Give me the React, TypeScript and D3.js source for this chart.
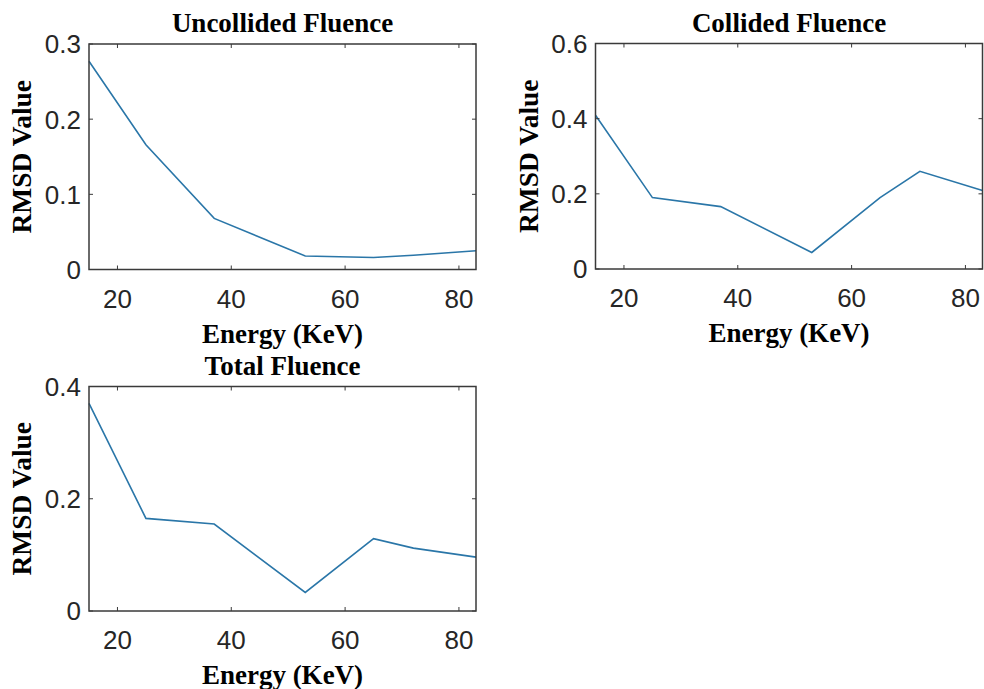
import React from "react";
import * as d3 from "d3";

const energies = [15, 25, 37, 53, 65, 72, 83];
const uncollided = [0.277, 0.166, 0.068, 0.018, 0.016, 0.019, 0.025];
const collided = [0.409, 0.19, 0.166, 0.044, 0.19, 0.26, 0.209];
const total = [0.37, 0.165, 0.155, 0.033, 0.129, 0.112, 0.096];

const xTicks = [20, 40, 60, 80];
const yTicksUncollided = [0, 0.1, 0.2, 0.3];
const yTicksCollided = [0, 0.2, 0.4, 0.6];
const yTicksTotal = [0, 0.2, 0.4];

const titles = ["Uncollided Fluence", "Collided Fluence", "Total Fluence"];
const xLabel = "Energy (KeV)";
const yLabel = "RMSD Value";

type PanelProps = {
  left: number;
  top: number;
  width: number;
  height: number;
  values: number[];
  yTicks: number[];
  title: string;
};

const SERIF = "'Liberation Serif', 'Times New Roman', serif";
const SANS = "'Liberation Sans', Arial, Helvetica, sans-serif";
const AXIS_COLOR = "#3a3a3a";
const TEXT_COLOR = "#262626";

function Panel({ left, top, width, height, values, yTicks, title }: PanelProps) {
  const x = d3.scaleLinear().domain([15, 83]).range([left, left + width]);
  const y = d3
    .scaleLinear()
    .domain([0, yTicks[yTicks.length - 1]])
    .range([top + height, top]);
  const line = d3
    .line<number>()
    .x((_, i) => x(energies[i]))
    .y((d) => y(d));
  const tl = 4;
  const bottom = top + height;
  const right = left + width;
  const fmt = (v: number) => (v === 0 ? "0" : String(v));
  return (
    <g>
      <rect x={left} y={top} width={width} height={height} fill="#fff" />
      <path d={line(values) || ""} fill="none" stroke="#2a76a8" strokeWidth={1.6} />
      <rect
        x={left}
        y={top}
        width={width}
        height={height}
        fill="none"
        stroke={AXIS_COLOR}
        strokeWidth={1.5}
      />
      {xTicks.map((t) => (
        <g key={"x" + t}>
          <line x1={x(t)} x2={x(t)} y1={bottom} y2={bottom - tl} stroke={AXIS_COLOR} strokeWidth={1} />
          <line x1={x(t)} x2={x(t)} y1={top} y2={top + tl} stroke={AXIS_COLOR} strokeWidth={1} />
          <text
            x={x(t)}
            y={bottom + 38}
            textAnchor="middle"
            fontFamily={SANS}
            fontSize={26}
            fill={TEXT_COLOR}
          >
            {t}
          </text>
        </g>
      ))}
      {yTicks.map((t) => (
        <g key={"y" + t}>
          <line x1={left} x2={left + tl} y1={y(t)} y2={y(t)} stroke={AXIS_COLOR} strokeWidth={1} />
          <line x1={right} x2={right - tl} y1={y(t)} y2={y(t)} stroke={AXIS_COLOR} strokeWidth={1} />
          <text
            x={left - 8}
            y={y(t)}
            dy="0.36em"
            textAnchor="end"
            fontFamily={SANS}
            fontSize={26}
            fill={TEXT_COLOR}
          >
            {fmt(t)}
          </text>
        </g>
      ))}
      <text
        x={(left + right) / 2}
        y={top - 12}
        textAnchor="middle"
        fontFamily={SERIF}
        fontWeight="bold"
        fontSize={27}
        fill="#000"
      >
        {title}
      </text>
      <text
        x={(left + right) / 2}
        y={bottom + 73}
        textAnchor="middle"
        fontFamily={SERIF}
        fontWeight="bold"
        fontSize={27}
        fill="#000"
      >
        {xLabel}
      </text>
      <text
        transform={`translate(${left - 58}, ${(top + bottom) / 2}) rotate(-90)`}
        textAnchor="middle"
        fontFamily={SERIF}
        fontWeight="bold"
        fontSize={27.5}
        fill="#000"
      >
        {yLabel}
      </text>
    </g>
  );
}

export default function App() {
  return (
    <svg
      width={984}
      height={689}
      style={{ position: "absolute", left: 0, top: 0, background: "#fff" }}
    >
      <rect x={0} y={0} width={984} height={689} fill="#fff" />
      <Panel left={89} top={44} width={387} height={225.5} values={uncollided} yTicks={yTicksUncollided} title={titles[0]} />
      <Panel left={595.5} top={43.5} width={387} height={225.5} values={collided} yTicks={yTicksCollided} title={titles[1]} />
      <Panel left={89} top={386.5} width={387} height={224.5} values={total} yTicks={yTicksTotal} title={titles[2]} />
    </svg>
  );
}
